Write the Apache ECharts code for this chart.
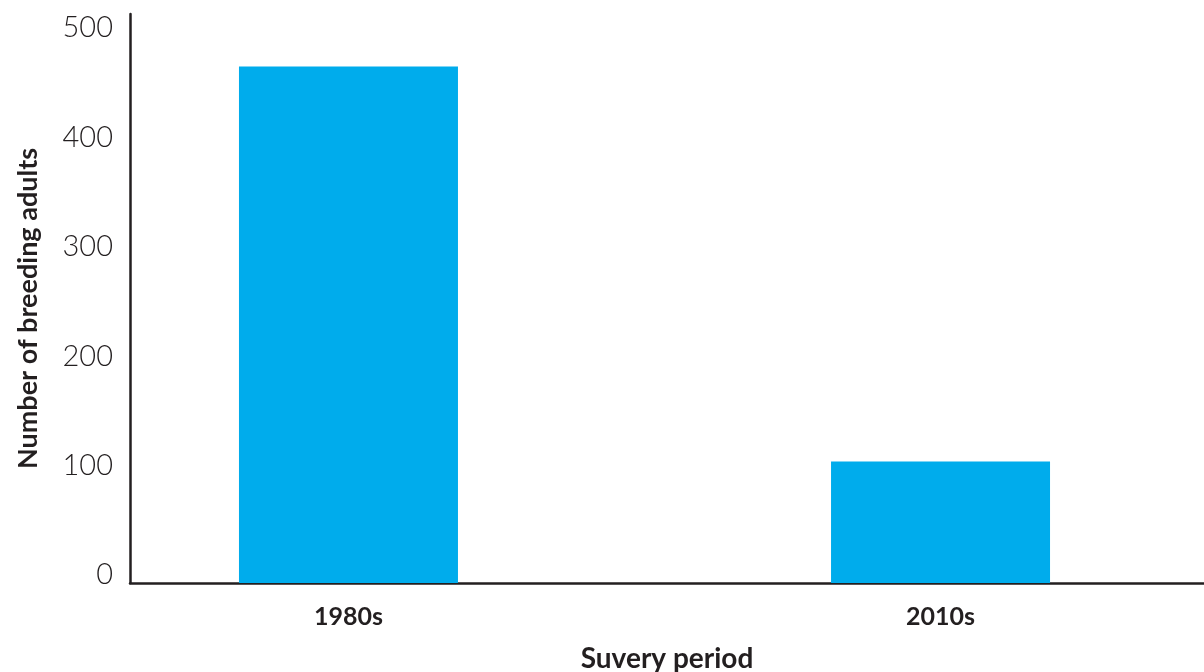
<!DOCTYPE html>
<html>
<head>
<meta charset="utf-8">
<script src="https://cdn.jsdelivr.net/npm/echarts@6/dist/echarts.min.js"></script>
<style>html,body{margin:0;padding:0;background:#fff}#c{width:1204px;height:672px}</style>
</head>
<body>
<div id="c"></div>
<script>
const categories = ['1980s', '2010s'];
const breedingAdults = [472, 111];
const yTicks = [0, 100, 200, 300, 400, 500];

const positions = categories.map((c, i) => i);
const chart = echarts.init(document.getElementById('c'));
chart.setOption({
  animation: false,
  grid: { left: 130, right: 0, top: 14, bottom: 89, containLabel: false, outerBoundsMode: 'none' },
  xAxis: {
    type: 'value',
    min: -0.369, max: 1.445,
    name: 'Suvery period',
    nameLocation: 'middle',
    nameGap: 62,
    nameTextStyle: { fontFamily: 'Lato', fontWeight: 'bold', fontSize: 28, color: '#231f20' },
    axisLine: { show: true, onZero: false, lineStyle: { color: '#231f20', width: 2.5 } },
    axisTick: { show: false },
    splitLine: { show: false },
    axisLabel: {
      customValues: positions,
      formatter: v => categories[Math.round(v)] || '',
      fontFamily: 'Lato', fontWeight: 'bold', fontSize: 25, color: '#231f20', margin: 21
    }
  },
  yAxis: {
    type: 'value',
    min: 0, max: 520,
    name: 'Number of breeding adults',
    nameLocation: 'middle',
    nameGap: 88,
    nameRotate: 90,
    nameTextStyle: { fontFamily: 'Lato', fontWeight: 'bold', fontSize: 27, color: '#231f20',
      padding: [0, 20, 0, 0] },
    axisLine: { show: true, onZero: false, lineStyle: { color: '#231f20', width: 2.5 } },
    axisTick: { show: false },
    splitLine: { show: false },
    axisLabel: {
      customValues: yTicks,
      fontFamily: 'Lato', fontWeight: 300, fontSize: 29, color: '#231f20', margin: 17,
      verticalAlign: 'bottom', lineHeight: 16
    }
  },
  series: [{
    type: 'bar',
    barWidth: 219,
    itemStyle: { color: '#00acec' },
    data: positions.map((p, i) => [p, breedingAdults[i]])
  }]
});
</script>
</body>
</html>
